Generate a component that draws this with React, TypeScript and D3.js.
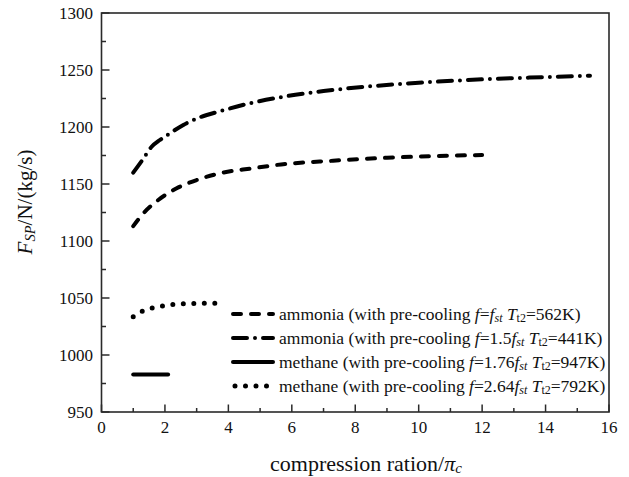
import React from "react";
import * as d3 from "d3";

// Specific thrust vs. compression ratio
const ammoniaFstPi = [1, 1.32, 1.79, 2.37, 3.0, 3.73, 4.78, 5.52, 7.3, 9, 10.5, 12];
const ammoniaFstF = [1113, 1124.3, 1136, 1146.2, 1153.5, 1159.4, 1163.8, 1166.7, 1170.4, 1173, 1174.5, 1175.4];

const ammonia15Pi = [1, 1.3, 1.58, 1.84, 2.16, 2.58, 3.1, 3.73, 4.68, 5.83, 7, 8.35, 10, 12, 14, 15.4];
const ammonia15F = [1160, 1171.5, 1182.7, 1188.6, 1194.5, 1201.8, 1208.5, 1213.8, 1220.8, 1227, 1231.5, 1235.4, 1238.8, 1241.8, 1243.8, 1245];

const methane176Pi = [1, 2.1];
const methane176F = [983, 983];

const methane264Pi = [1, 1.3, 1.65, 2, 2.3, 2.7, 3.2, 3.8];
const methane264F = [1033.5, 1038.5, 1041.5, 1043.3, 1044.5, 1045, 1045.3, 1045.3];

const xTicks = [0, 2, 4, 6, 8, 10, 12, 14, 16];
const yTicks = [950, 1000, 1050, 1100, 1150, 1200, 1250, 1300];

const legendNames = ["ammonia", "ammonia", "methane", "methane"];
const legendF = ["", "1.5", "1.76", "2.64"];
const legendT = ["562K", "441K", "947K", "792K"];

const W = 629;
const H = 477;
const L = 101.5;
const R = 609;
const T = 13;
const B = 412;

const FONT = "'Liberation Serif', 'Times New Roman', serif";

const x = d3.scaleLinear().domain([0, 16]).range([L, R]);
const y = d3.scaleLinear().domain([950, 1300]).range([B, T]);

const line = d3
  .line<[number, number]>()
  .x((d) => x(d[0]))
  .y((d) => y(d[1]))
  .curve(d3.curveMonotoneX);

const zip = (a: number[], b: number[]) => a.map((v, i) => [v, b[i]] as [number, number]);

type Series = { pi: number[]; f: number[]; dash: string; width: number; dotted?: boolean };

const series: Series[] = [
  { pi: ammoniaFstPi, f: ammoniaFstF, dash: "8 10", width: 4 },
  { pi: ammonia15Pi, f: ammonia15F, dash: "14 8 0 8", width: 4 },
  { pi: methane176Pi, f: methane176F, dash: "", width: 4 },
  { pi: methane264Pi, f: methane264F, dash: "0 10.5", width: 5, dotted: true },
];

export default function App() {
  const minorX = d3.range(1, 16, 2);
  const minorY = d3.range(975, 1300, 50);
  const axisColor = "#2a2a2a";
  const legX0 = 233;
  const legX1 = 273;
  const legY0 = 314;
  const legDy = 24;

  return (
    <svg
      width={W}
      height={H}
      style={{ position: "absolute", left: 0, top: 0, background: "#fff" }}
      fontFamily={FONT}
    >
      <rect x={0} y={0} width={W} height={H} fill="#fff" />

      {/* data curves */}
      {series.map((s, i) => (
        <path
          key={i}
          d={line(zip(s.pi, s.f)) || ""}
          fill="none"
          stroke="#000"
          strokeWidth={s.width}
          strokeLinecap="round"
          strokeDasharray={s.dash || undefined}
        />
      ))}

      {/* frame */}
      <rect x={L} y={T} width={R - L} height={B - T} fill="none" stroke={axisColor} strokeWidth={1.6} />

      {/* x ticks */}
      {xTicks.map((t) => (
        <g key={"xt" + t}>
          <line x1={x(t)} x2={x(t)} y1={B} y2={B - 7.5} stroke={axisColor} strokeWidth={1.5} />
          <text x={x(t)} y={427} fontSize={17} textAnchor="middle" dominantBaseline="central" fill="#111">
            {t}
          </text>
        </g>
      ))}
      {minorX.map((t) => (
        <line key={"xm" + t} x1={x(t)} x2={x(t)} y1={B} y2={B - 4} stroke={axisColor} strokeWidth={1.5} />
      ))}

      {/* y ticks */}
      {yTicks.map((t) => (
        <g key={"yt" + t}>
          <line x1={L} x2={L + 8} y1={y(t)} y2={y(t)} stroke={axisColor} strokeWidth={1.5} />
          <text x={93} y={y(t)} fontSize={17} textAnchor="end" dominantBaseline="central" fill="#111">
            {t}
          </text>
        </g>
      ))}
      {minorY.map((t) => (
        <line key={"ym" + t} x1={L} x2={L + 4.5} y1={y(t)} y2={y(t)} stroke={axisColor} strokeWidth={1.5} />
      ))}

      {/* axis titles */}
      <text x={366} y={463} fontSize={22} textAnchor="middle" dominantBaseline="central" fill="#111">
        compression ration/<tspan fontStyle="italic">π</tspan>
        <tspan fontStyle="italic" fontSize={15} dy={5}>c</tspan>
      </text>
      <text
        transform="translate(25, 202) rotate(-90)"
        fontSize={21}
        textAnchor="middle"
        dominantBaseline="central"
        fill="#111"
      >
        <tspan fontStyle="italic">F</tspan>
        <tspan fontStyle="italic" fontSize={14.5} dy={5}>SP</tspan>
        <tspan dy={-5}>/N/(kg/s)</tspan>
      </text>

      {/* legend */}
      {series.map((s, i) => {
        const ly = legY0 + i * legDy;
        return (
          <g key={"lg" + i}>
            <line
              x1={legX0 + (s.dotted ? 2 : 0)}
              x2={legX1}
              y1={ly}
              y2={ly}
              stroke="#000"
              strokeWidth={s.width}
              strokeLinecap="round"
              strokeDasharray={s.dash || undefined}
            />
            <text x={279} y={ly} fontSize={17.5} dominantBaseline="central" fill="#111">
              {legendNames[i]} (with pre-cooling <tspan fontStyle="italic">f</tspan>={legendF[i]}
              <tspan fontStyle="italic">f</tspan>
              <tspan fontStyle="italic" fontSize={12} dy={4}>st</tspan>
              <tspan dy={-4}> </tspan>
              <tspan fontStyle="italic">T</tspan>
              <tspan fontSize={12} dy={4}>t2</tspan>
              <tspan dy={-4}>={legendT[i]})</tspan>
            </text>
          </g>
        );
      })}
    </svg>
  );
}
